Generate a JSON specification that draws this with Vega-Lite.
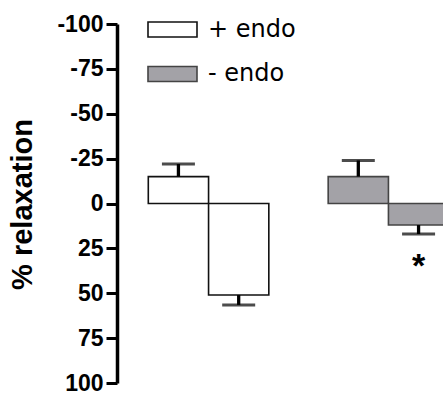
{
  "$schema": "https://vega.github.io/schema/vega-lite/v6.json",
  "width": 326,
  "height": 359,
  "autosize": {"type": "none"},
  "padding": {"left": 117, "top": 24, "right": 0, "bottom": 11},
  "config": {"view": {"stroke": null}, "font": "Liberation Sans"},
  "data": {
    "values": [
      {"endo": "+ endo", "cond": "1", "value": -15, "err": -22, "sig": ""},
      {"endo": "+ endo", "cond": "2", "value": 51, "err": 56.5, "sig": ""},
      {"endo": "- endo", "cond": "1", "value": -15, "err": -24, "sig": ""},
      {"endo": "- endo", "cond": "2", "value": 12, "err": 17, "sig": "*"}
    ]
  },
  "encoding": {
    "x": {
      "field": "endo",
      "type": "nominal",
      "sort": ["+ endo", "- endo"],
      "axis": null,
      "scale": {"range": [0, 363], "paddingInner": 0.33, "paddingOuter": 0.174}
    },
    "xOffset": {
      "field": "cond",
      "type": "nominal",
      "scale": {"paddingInner": 0, "paddingOuter": 0}
    }
  },
  "layer": [
    {
      "mark": {"type": "bar", "strokeWidth": 1.6, "clip": true},
      "encoding": {
        "y": {
          "field": "value",
          "type": "quantitative",
          "scale": {"domain": [-100, 100], "reverse": true, "nice": false, "zero": true},
          "title": "% relaxation",
          "axis": {
            "values": [-100, -75, -50, -25, 0, 25, 50, 75, 100],
            "labelExpr": "datum.value < 0 ? '-' + abs(datum.value) : '' + datum.value",
            "grid": false,
            "domainColor": "black",
            "domainWidth": 3.5,
            "tickColor": "black",
            "tickWidth": 3,
            "tickSize": 11,
            "labelPadding": 3,
            "labelFont": "Liberation Sans",
            "labelFontSize": 23,
            "labelFontWeight": "bold",
            "labelColor": "black",
            "titleFont": "Liberation Sans",
            "titleFontSize": 29,
            "titleFontWeight": "bold",
            "titleColor": "black",
            "titleX": -86,
            "titleY": 180,
            "titleAlign": "center",
            "titleBaseline": "alphabetic",
            "titleAngle": 270
          }
        },
        "fill": {
          "field": "endo",
          "type": "nominal",
          "scale": {"domain": ["+ endo", "- endo"], "range": ["#ffffff", "#a3a2a7"]},
          "legend": {
            "title": null,
            "orient": "none",
            "legendX": 30,
            "legendY": -20,
            "symbolType": "M-1,-0.306H1V0.306H-1Z",
            "symbolSize": 2401,
            "symbolStrokeWidth": 1.6,
            "labelFont": "DejaVu Sans",
            "labelFontSize": 24,
            "labelColor": "black",
            "labelOffset": 10,
            "rowPadding": 6.5
          }
        },
        "stroke": {
          "field": "endo",
          "type": "nominal",
          "scale": {"domain": ["+ endo", "- endo"], "range": ["#111111", "#444444"]},
          "legend": {
            "title": null,
            "orient": "none",
            "legendX": 30,
            "legendY": -20,
            "symbolType": "M-1,-0.306H1V0.306H-1Z",
            "symbolSize": 2401,
            "symbolStrokeWidth": 1.6,
            "labelFont": "DejaVu Sans",
            "labelFontSize": 24,
            "labelColor": "black",
            "labelOffset": 10,
            "rowPadding": 6.5
          }
        }
      }
    },
    {
      "mark": {"type": "rule", "strokeWidth": 3.3, "color": "black"},
      "encoding": {
        "y": {"field": "value", "type": "quantitative"},
        "y2": {"field": "err"}
      }
    },
    {
      "mark": {"type": "tick", "thickness": 3, "size": 33, "color": "black"},
      "encoding": {
        "y": {"field": "err", "type": "quantitative"}
      }
    },
    {
      "transform": [{"filter": "datum.sig != ''"}],
      "mark": {"type": "text", "fontSize": 34, "fontWeight": "bold", "dy": 43, "baseline": "alphabetic", "color": "black"},
      "encoding": {
        "y": {"field": "err", "type": "quantitative"},
        "text": {"field": "sig"}
      }
    }
  ]
}
